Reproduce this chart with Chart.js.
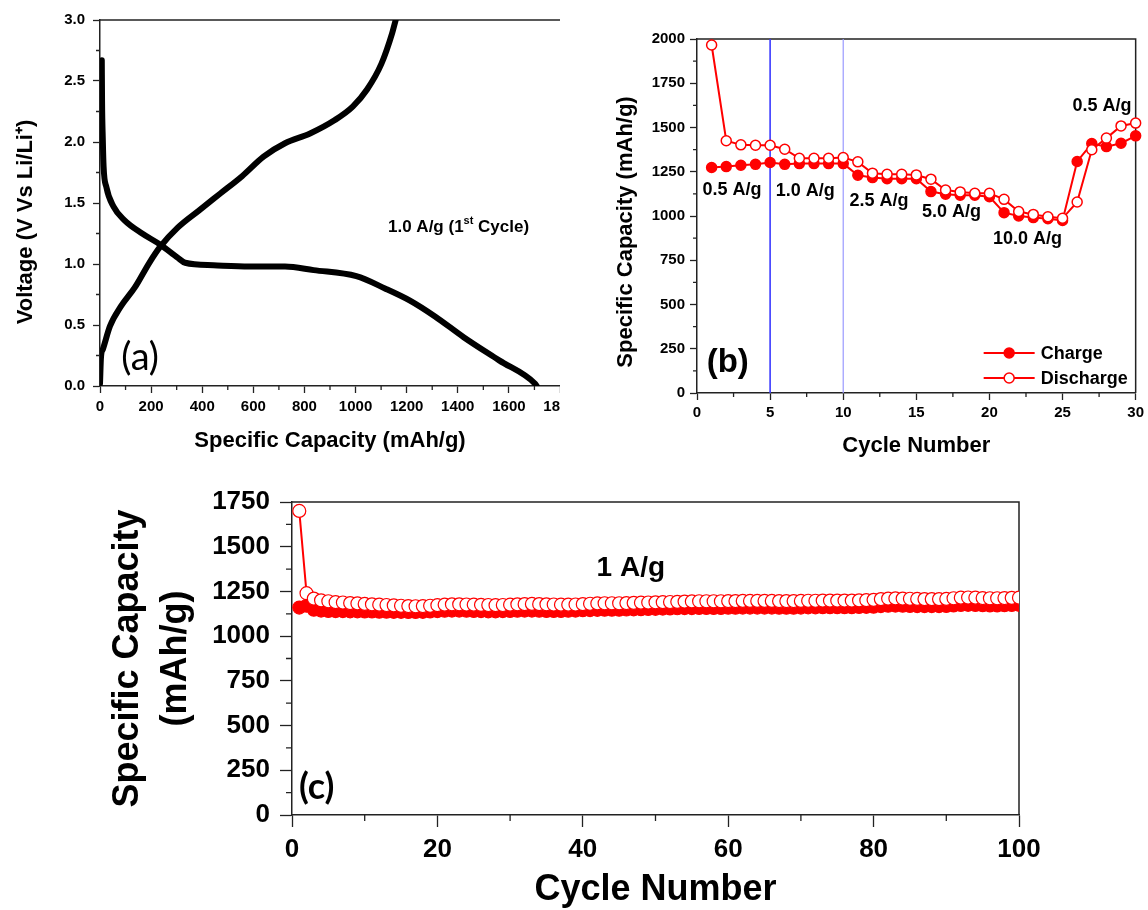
<!DOCTYPE html>
<html>
<head>
<meta charset="utf-8">
<script src="https://cdn.jsdelivr.net/npm/chart.js@4.4.1/dist/chart.umd.min.js"></script>
<style>
  html, body { margin: 0; padding: 0; background: #fff; }
  body { width: 1148px; height: 910px; position: relative; overflow: hidden; }
  .panel { position: absolute; overflow: hidden; }
  .panel canvas { display: block; }
  #wrapA { left: 0; top: 0; width: 560px; height: 460px; }
  #wrapB { left: 580px; top: 0; width: 568px; height: 460px; }
  #wrapC { left: 0; top: 470px; width: 1148px; height: 440px; }
</style>
</head>
<body>
<div class="panel" id="wrapA"><canvas id="chartA" width="600" height="460"></canvas></div>
<div class="panel" id="wrapB"><canvas id="chartB" width="568" height="460"></canvas></div>
<div class="panel" id="wrapC"><canvas id="chartC" width="1148" height="440"></canvas></div>
<script>
// (a) first cycle voltage profile at 1.0 A/g
const dischargeCapA = [7, 8, 11, 14, 25, 53, 95, 165, 235, 305, 333, 444, 584, 724, 836, 1003, 1115, 1213, 1311, 1423, 1562, 1702, 1709];
const dischargeVoltA = [2.67, 2.34, 2.02, 1.80, 1.63, 1.47, 1.36, 1.25, 1.16, 1.05, 1.01, 0.99, 0.98, 0.98, 0.95, 0.90, 0.80, 0.70, 0.57, 0.40, 0.21, 0.02, 0.0];
const chargeCapA = [0, 4, 11, 39, 81, 137, 193, 235, 305, 388, 472, 556, 640, 724, 822, 919, 989, 1045, 1101, 1143, 1157];
const chargeVoltA = [0.02, 0.24, 0.30, 0.49, 0.65, 0.81, 1.01, 1.14, 1.30, 1.44, 1.58, 1.72, 1.88, 1.99, 2.07, 2.18, 2.29, 2.43, 2.64, 2.89, 3.0];

// (b) rate capability
const cyclesB = [1, 2, 3, 4, 5, 6, 7, 8, 9, 10, 11, 12, 13, 14, 15, 16, 17, 18, 19, 20, 21, 22, 23, 24, 25, 26, 27, 28, 29, 30];
const chargeB = [1274, 1279, 1287, 1292, 1302, 1292, 1296, 1296, 1296, 1296, 1230, 1217, 1211, 1211, 1211, 1138, 1123, 1117, 1117, 1109, 1019, 1000, 991, 985, 975, 1308, 1409, 1392, 1411, 1453];
const dischargeB = [1966, 1425, 1402, 1400, 1400, 1377, 1326, 1326, 1326, 1330, 1306, 1242, 1236, 1236, 1232, 1208, 1147, 1136, 1128, 1128, 1094, 1025, 1009, 996, 987, 1079, 1374, 1440, 1509, 1525];
const rateSwitchCycles = [5, 10];
const rateLabels = ['0.5 A/g', '1.0 A/g', '2.5 A/g', '5.0 A/g', '10.0 A/g', '0.5 A/g'];
const rateLabelCycle = [2.4, 7.4, 12.45, 17.4, 22.6, 27.7];
const rateLabelCap = [1147, 1140, 1083, 1025, 872, 1623];

// (c) long cycling at 1 A/g
const cyclesC = [1, 2, 3, 4, 5, 6, 7, 8, 9, 10, 11, 12, 13, 14, 15, 16, 17, 18, 19, 20,
  21, 22, 23, 24, 25, 26, 27, 28, 29, 30, 31, 32, 33, 34, 35, 36, 37, 38, 39, 40,
  41, 42, 43, 44, 45, 46, 47, 48, 49, 50, 51, 52, 53, 54, 55, 56, 57, 58, 59, 60,
  61, 62, 63, 64, 65, 66, 67, 68, 69, 70, 71, 72, 73, 74, 75, 76, 77, 78, 79, 80,
  81, 82, 83, 84, 85, 86, 87, 88, 89, 90, 91, 92, 93, 94, 95, 96, 97, 98, 99, 100];
const chargeC = [1160, 1170, 1148, 1143, 1141, 1140, 1140, 1139, 1139, 1138,
  1138, 1137, 1137, 1136, 1136, 1135, 1135, 1136, 1138, 1140,
  1142, 1143, 1143, 1142, 1141, 1140, 1139, 1139, 1140, 1141,
  1142, 1143, 1143, 1142, 1141, 1141, 1141, 1142, 1143, 1145,
  1146, 1147, 1148, 1148, 1148, 1149, 1150, 1151, 1152, 1153,
  1154, 1155, 1156, 1157, 1157, 1158, 1158, 1158, 1158, 1159,
  1159, 1160, 1160, 1160, 1160, 1160, 1159, 1159, 1159, 1160,
  1161, 1161, 1162, 1162, 1162, 1162, 1162, 1163, 1164, 1165,
  1168, 1170, 1171, 1170, 1169, 1168, 1168, 1168, 1168, 1169,
  1172, 1174, 1175, 1174, 1173, 1172, 1172, 1173, 1174, 1175];
const dischargeC = [1700, 1240, 1210, 1200, 1195, 1190, 1188, 1185, 1183, 1180,
  1178, 1176, 1174, 1172, 1170, 1168, 1167, 1168, 1170, 1173,
  1176, 1178, 1178, 1177, 1176, 1175, 1174, 1173, 1174, 1176,
  1178, 1179, 1180, 1179, 1178, 1177, 1176, 1176, 1177, 1179,
  1181, 1183, 1184, 1184, 1184, 1185, 1186, 1187, 1188, 1189,
  1190, 1191, 1192, 1193, 1194, 1195, 1195, 1195, 1195, 1196,
  1196, 1197, 1197, 1197, 1197, 1197, 1196, 1196, 1196, 1197,
  1198, 1198, 1199, 1199, 1199, 1199, 1199, 1200, 1201, 1203,
  1207, 1210, 1211, 1210, 1209, 1208, 1207, 1207, 1207, 1208,
  1212, 1215, 1216, 1215, 1213, 1212, 1212, 1213, 1214, 1215];

const FONT = "'Liberation Sans', Arial, sans-serif";
Chart.defaults.font.family = FONT;
Chart.defaults.color = '#000';
Chart.defaults.animation = false;

const RED = '#ff0000';
const pts = (xs, ys) => xs.map((x, i) => ({ x: x, y: ys[i] }));

// frame, minor ticks, free text, rotated y title and in-plot legend
const decor = {
  id: 'decor',
  beforeDatasetsDraw(chart, args, opts) {
    const ctx = chart.ctx, a = chart.chartArea;
    ctx.save();
    ctx.strokeStyle = '#222';
    ctx.lineWidth = 1.5;
    ctx.beginPath();
    ctx.moveTo(a.left, a.top); ctx.lineTo(a.right, a.top);
    if (!opts.openRight) { ctx.lineTo(a.right, a.bottom); }
    ctx.stroke();
    ['x', 'y'].forEach(id => {
      const step = opts.minor && opts.minor[id];
      if (!step) return;
      const s = chart.scales[id];
      const n = Math.round((s.max - s.min) / step);
      ctx.beginPath();
      ctx.lineWidth = 1.3;
      for (let i = 1; i < n; i += 2) {
        const p = s.getPixelForValue(s.min + i * step);
        if (s.isHorizontal()) { ctx.moveTo(p, a.bottom); ctx.lineTo(p, a.bottom + opts.minorLen); }
        else { ctx.moveTo(a.left, p); ctx.lineTo(a.left - opts.minorLen, p); }
      }
      ctx.stroke();
    });
    ctx.restore();
  },
  afterDatasetsDraw(chart, args, opts) {
    const ctx = chart.ctx, a = chart.chartArea;
    const xs = chart.scales.x, ys = chart.scales.y;
    ctx.save();
    ctx.fillStyle = '#000';
    ctx.textBaseline = 'middle';
    (opts.texts || []).forEach(t => {
      const parts = t.parts || [{ t: t.text }];
      let w = 0;
      parts.forEach(p => { ctx.font = p.sup ? t.supFont : t.font; w += ctx.measureText(p.t).width; });
      let px = xs.getPixelForValue(t.x);
      const py = ys.getPixelForValue(t.y);
      if (t.align === 'center') px -= w / 2;
      ctx.textAlign = 'left';
      parts.forEach(p => {
        ctx.font = p.sup ? t.supFont : t.font;
        ctx.fillText(p.t, px, p.sup ? py - 6 : py);
        px += ctx.measureText(p.t).width;
      });
    });
    if (opts.yTitle) {
      const T = opts.yTitle;
      ctx.save();
      ctx.translate(a.left + T.dx, (a.top + a.bottom) / 2 + T.dy);
      ctx.rotate(-Math.PI / 2);
      ctx.font = T.font;
      ctx.textAlign = 'center';
      ctx.fillText(T.text, 0, 0);
      ctx.restore();
    }
    if (opts.legend) {
      const L = opts.legend;
      L.rows.forEach((di, k) => {
        const ds = chart.data.datasets[di];
        const y = a.bottom - L.bottomOffset + k * L.rowGap;
        const x0 = a.right - L.rightOffset;
        ctx.strokeStyle = ds.borderColor;
        ctx.lineWidth = 2;
        ctx.beginPath(); ctx.moveTo(x0, y); ctx.lineTo(x0 + L.lineLen, y); ctx.stroke();
        ctx.beginPath();
        ctx.arc(x0 + L.lineLen / 2, y, ds.pointRadius, 0, Math.PI * 2);
        ctx.fillStyle = ds.pointBackgroundColor;
        ctx.fill();
        ctx.lineWidth = ds.pointBorderWidth;
        ctx.stroke();
        ctx.fillStyle = '#000';
        ctx.font = L.font;
        ctx.textAlign = 'left';
        ctx.fillText(ds.label, x0 + L.lineLen + 6, y + 1);
      });
    }
    ctx.restore();
  }
};

function axis(min, max, step, tickSize, tickLen, pad, fit, title, fmt) {
  return {
    type: 'linear', min: min, max: max,
    ticks: { stepSize: step, font: { size: tickSize, weight: 'bold' }, padding: pad, color: '#000',
      callback: fmt || (v => v) },
    grid: { drawOnChartArea: false, drawTicks: true, tickLength: tickLen, tickColor: '#222', tickWidth: 1.3 },
    border: { display: true, color: '#222', width: 1.5 },
    title: title || { display: false },
    afterFit: fit
  };
}

// ---- (a)
new Chart(document.getElementById('chartA'), {
  type: 'line',
  data: {
    datasets: [
      { label: 'Discharge', data: pts(dischargeCapA, dischargeVoltA), borderColor: '#000', borderWidth: 6,
        pointRadius: 0, cubicInterpolationMode: 'monotone', borderCapStyle: 'round' },
      { label: 'Charge', data: pts(chargeCapA, chargeVoltA), borderColor: '#000', borderWidth: 6,
        pointRadius: 0, cubicInterpolationMode: 'monotone', borderCapStyle: 'round' }
    ]
  },
  options: {
    responsive: false,
    layout: { padding: { left: 0, top: 20, right: 40, bottom: 0 } },
    scales: {
      x: axis(0, 1800, 200, 15, 7, 5, s => { s.height = 74; },
        { display: true, text: 'Specific Capacity (mAh/g)', font: { size: 22, weight: 'bold' }, padding: { top: 0, bottom: 6 } }),
      y: axis(0, 3, 0.5, 15, 7, 8, s => { s.width = 100; }, null, v => v.toFixed(1))
    },
    plugins: {
      legend: { display: false }, tooltip: { enabled: false },
      decor: {
        openRight: true,
        minor: { x: 100, y: 0.25 }, minorLen: 4,
        yTitle: { text: 'Voltage (V Vs Li/Li\u207A)', dx: -74, dy: 19, font: "bold 22px " + FONT },
        texts: [
          { x: 1127, y: 1.30, font: "bold 17px " + FONT, supFont: "bold 11px " + FONT,
            parts: [{ t: '1.0 A/g (1' }, { t: 'st', sup: true }, { t: ' Cycle)' }] },
          { x: 157, y: 0.23, text: '(a)', align: 'center', font: "38px Lato, " + FONT }
        ]
      }
    }
  },
  plugins: [decor]
});

// ---- (b)
const lineSets = rateSwitchCycles.map((c, i) => ({
  label: 'rate switch', data: [{ x: c, y: 0 }, { x: c, y: 2000 }],
  borderColor: i === 0 ? '#3a3aff' : '#9a9aff', borderWidth: i === 0 ? 1.6 : 1.2, pointRadius: 0, order: 5
}));
new Chart(document.getElementById('chartB'), {
  type: 'line',
  data: {
    datasets: [
      { label: 'Charge', data: pts(cyclesB, chargeB), borderColor: RED, borderWidth: 2,
        pointRadius: 5, pointBorderWidth: 1.5, pointBackgroundColor: RED, pointBorderColor: RED, order: 2, clip: false },
      { label: 'Discharge', data: pts(cyclesB, dischargeB), borderColor: RED, borderWidth: 2,
        pointRadius: 5, pointBorderWidth: 1.5, pointBackgroundColor: '#fff', pointBorderColor: RED, order: 1, clip: false }
    ].concat(lineSets)
  },
  options: {
    responsive: false,
    layout: { padding: { left: 0, top: 39, right: 10, bottom: 0 } },
    scales: {
      x: axis(0, 30, 5, 15, 7, 4, s => { s.height = 67; },
        { display: true, text: 'Cycle Number', font: { size: 22, weight: 'bold' }, padding: { top: 0, bottom: 1 } }),
      y: axis(0, 2000, 250, 15, 7, 5, s => { s.width = 117; })
    },
    plugins: {
      legend: { display: false }, tooltip: { enabled: false },
      decor: {
        minor: { x: 2.5, y: 125 }, minorLen: 4,
        yTitle: { text: 'Specific Capacity (mAh/g)', dx: -71.5, dy: 16, font: "bold 22px " + FONT },
        texts: rateLabels.map((t, i) => ({ x: rateLabelCycle[i], y: rateLabelCap[i], text: t, align: 'center',
          font: "bold 18px " + FONT })).concat([
          { x: 2.1, y: 170, text: '(b)', align: 'center', font: "bold 33px " + FONT }
        ]),
        legend: { rows: [0, 1], bottomOffset: 40, rowGap: 25, rightOffset: 152, lineLen: 51, font: "bold 18px " + FONT }
      }
    }
  },
  plugins: [decor]
});

// ---- (c)
new Chart(document.getElementById('chartC'), {
  type: 'line',
  data: {
    datasets: [
      { label: 'Discharge', data: pts(cyclesC, dischargeC), borderColor: RED, borderWidth: 2,
        pointRadius: 6.5, pointBorderWidth: 1.2, pointBackgroundColor: '#fff', pointBorderColor: RED, order: 1 },
      { label: 'Charge', data: pts(cyclesC, chargeC), borderColor: RED, borderWidth: 2,
        pointRadius: 6.5, pointBorderWidth: 1.2, pointBackgroundColor: RED, pointBorderColor: RED, order: 2 }
    ]
  },
  options: {
    responsive: false,
    layout: { padding: { left: 0, top: 32, right: 129, bottom: 0 } },
    scales: {
      x: axis(0, 100, 20, 26, 12, 7, s => { s.height = 95; },
        { display: true, text: 'Cycle Number', font: { size: 36, weight: 'bold', lineHeight: 1.1 }, padding: { top: 0, bottom: 0 } }),
      y: axis(0, 1750, 250, 26, 12, 10, s => { s.width = 292; },
        { display: true, text: ['Specific Capacity', '(mAh/g)'], font: { size: 36, weight: 'bold', lineHeight: 1.33 }, padding: { top: 104, bottom: 0 } })
    },
    plugins: {
      legend: { display: false }, tooltip: { enabled: false },
      decor: {
        minor: { x: 10, y: 125 }, minorLen: 6,
        texts: [
          { x: 46.6, y: 1381, text: '1 A/g', align: 'center', font: "bold 28px " + FONT },
          { x: 3.4, y: 157, text: '(c)', align: 'center', font: "bold 36px Lato, " + FONT }
        ]
      }
    }
  },
  plugins: [decor]
});
</script>
</body>
</html>
